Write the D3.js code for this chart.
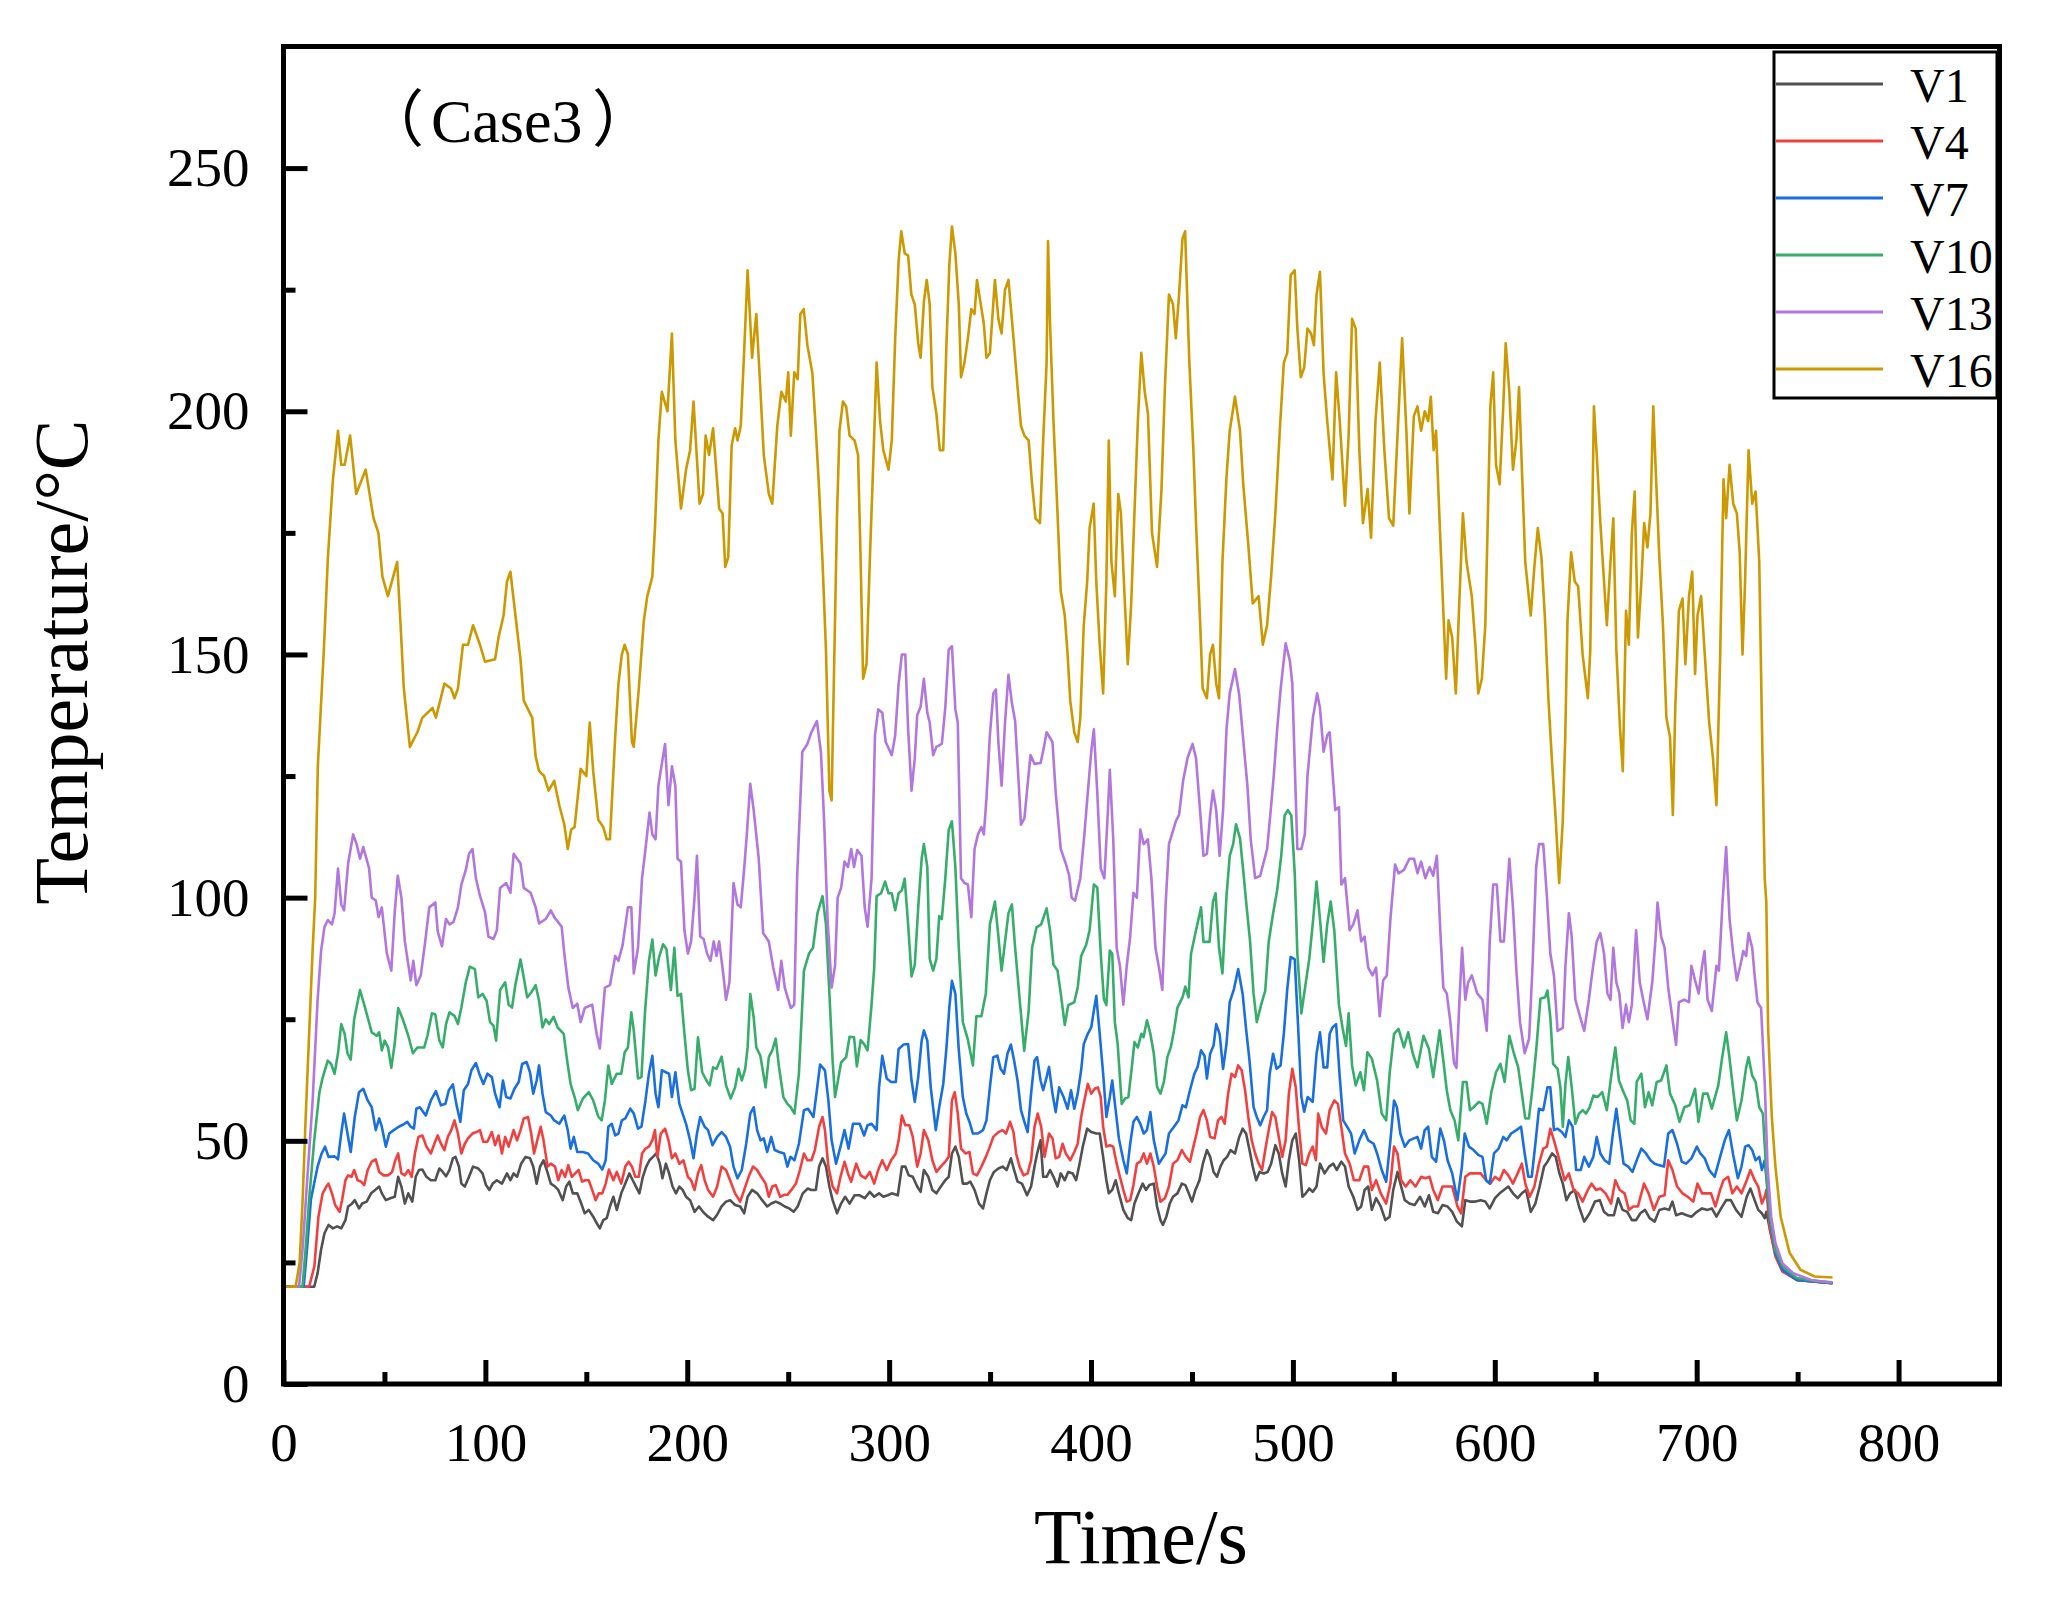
<!DOCTYPE html>
<html>
<head>
<meta charset="utf-8">
<script src="https://cdn.jsdelivr.net/npm/d3@7"></script>
<style>
  body { margin: 0; background: #fff; }
  text { font-family: "Liberation Serif", "Times New Roman", serif; fill: #000; }
</style>
</head>
<body>
<svg width="2055" height="1603"></svg>
<script>
// series: [time s, temperature °C]
const v1 = [[0,20],[15.2,20],[16.9,22.8],[18.6,27.6],[20.3,31],[22.3,32.7],[24.5,32],[26.6,32.4],[28.6,32],[30.7,33.7],[32,36.5],[33.7,37],[35.3,37.8],[37.4,36.1],[39,37.1],[41.2,37.5],[43.4,39.2],[45.4,39.9],[47.4,40.6],[48.7,39.2],[50.7,37.8],[52.9,38.2],[55.1,38.5],[56.8,42.6],[58.4,40.6],[60.1,37.1],[61.8,39.2],[63.8,37.5],[65.5,42.6],[67.1,44],[68.8,44.1],[70.8,42.6],[73,41.9],[75.2,41.9],[77.2,44.3],[78.9,43.6],[80.5,42.7],[82.2,44],[83.9,46.4],[85.2,46.7],[86.9,44.7],[88.1,41.2],[89.8,40.6],[91.9,42.6],[93.9,44.7],[96.5,44.3],[98.6,43.3],[100.3,40.9],[102,39.9],[103.6,41.2],[105.7,41.9],[108.2,41.2],[110.7,43.3],[112.4,41.9],[114,43.3],[115.7,42.6],[117.7,45.3],[119.9,46.7],[122.1,46.4],[123.7,44.7],[125.4,41.2],[127.1,44.7],[128.8,46],[130.4,44],[132.4,41.2],[134.5,40.6],[136.1,39.9],[138.3,37.8],[140,40.6],[141.6,41.6],[143.3,39.2],[145.5,39.2],[147.5,37.1],[149.2,35.1],[151.2,35.8],[153.4,34.4],[155.1,33.1],[156.7,32],[158.4,33.7],[160.1,34.1],[161.7,36.5],[163.4,38.5],[165.1,35.8],[167.3,39.2],[169.3,41.2],[171.3,43.3],[173,41.9],[174.6,40.6],[176.3,39.2],[178,42.6],[179.7,44.7],[181.3,46],[183,46.7],[184.7,47.4],[186.4,45.3],[187.7,42.3],[189.4,45.3],[191,43.3],[192.7,40.6],[194.4,39.2],[196.1,40.6],[197.7,39.9],[199.4,38.5],[201.4,37.8],[203.6,35.4],[205.8,36.5],[207.8,35.4],[210.3,34.4],[212.8,33.7],[214.8,34.8],[217,36.5],[219.2,37.5],[221.2,37.8],[223.7,36.8],[226.2,36.5],[228.2,35.1],[229.9,38.5],[232.1,39.9],[234.6,39.2],[237.1,37.8],[239.6,36.5],[241.6,37.1],[243.8,37.5],[246,37.1],[248.3,36.5],[250.5,36.1],[252.7,35.4],[254.7,36.5],[257.2,39.2],[259.7,40.2],[261.5,39.9],[263.7,39.9],[265.3,44.7],[267,46.4],[268.7,44.7],[270.4,40.6],[272,37.8],[274.2,35.1],[276.2,37.1],[278.2,38.5],[280.4,37.1],[282.9,38.8],[285.4,38.8],[287.9,38.2],[290.4,39.5],[292.6,38.5],[295,39.2],[297.1,38.5],[299.3,38.8],[301.3,39.2],[304.3,38.8],[306.3,44.7],[308,44.7],[309.7,42.9],[311.7,42.6],[313.9,40.6],[315.6,39.5],[317.2,44],[319.4,42.6],[321.4,39.9],[323.4,39.2],[325.6,40.6],[327.8,41.9],[329.5,42.6],[331.1,47.4],[332.8,48.8],[334.5,46.7],[336.5,41.2],[338.5,41.2],[340.2,41.6],[342.3,39.9],[344.5,37.1],[346.5,36.1],[348.2,39.2],[349.9,41.9],[351.9,43.6],[354.1,44.3],[356.2,44.7],[358.2,44],[360.3,46.4],[361.9,44],[363.6,41.6],[365.8,41.2],[368.3,38.8],[370.3,40.6],[372,44.7],[373.3,47.4],[375,50.1],[376.3,42.6],[378,42.6],[379.7,44],[381.4,42.6],[383.4,40.6],[385,43.3],[387,41.9],[388.7,43.6],[390.9,43.3],[392.6,41.9],[394.2,45],[395.9,48.8],[398.1,52.5],[400.1,51.8],[402.6,51.5],[404.3,51.5],[406,46.7],[407.6,41.9],[408.8,39.2],[410.5,39.9],[412.2,41.9],[413.8,39.2],[416,35.8],[418.2,34.1],[419.9,33.7],[421.5,37.1],[423.5,39.2],[425.6,41.2],[427.2,39.9],[428.9,40.9],[431.1,41.2],[432.7,36.5],[434.4,33.7],[435.6,32.7],[437.3,34.4],[439,37.1],[440.6,38.5],[442.8,39.2],[445,41.2],[446.7,40.9],[448.4,39.2],[450,37.5],[451.7,39.9],[453.7,41.9],[455.4,45.3],[457.4,48.1],[459,46.7],[460.7,43.6],[462.4,42.6],[464.1,44.7],[465.7,46],[467.4,46.7],[469.1,48.1],[471.3,47.4],[473.4,50.8],[475.1,52.5],[476.8,51.5],[478.5,48.1],[480.1,44.7],[481.8,41.9],[483.5,43.6],[485.5,43.3],[487.5,43.6],[489.2,45.3],[491.3,49.1],[493,47.4],[494.7,43.3],[496.4,40.6],[498,46],[499.7,50.1],[501.4,51.5],[503.1,46],[504.7,38.5],[506.4,39.2],[508.1,40.2],[509.8,39.5],[511.7,40.6],[513.4,45.3],[515.7,43.3],[517.9,44.7],[520,45.3],[521.7,44],[524,45.7],[525.8,44.7],[527.6,40.6],[529.9,38.5],[532,35.8],[533.8,36.5],[535.5,39.9],[537.3,40.6],[539.1,35.8],[541.2,38.2],[543.5,36.5],[545.8,33.7],[547.9,34.4],[549.7,39.9],[551.8,43.6],[553.6,40.6],[555.4,37.8],[557.7,37.1],[560.3,36.8],[563,38.5],[565.3,36.5],[567.4,38.8],[569.5,35.4],[571.8,35.1],[574.1,36.8],[576.6,36.5],[578.9,35.4],[581.2,33.4],[583.7,32.4],[585.4,37.8],[587.7,37.5],[590.4,37.5],[593,37.8],[595.3,37.5],[597.5,36.1],[600.1,38.2],[602.4,39.2],[604.5,39.9],[606.7,40.6],[609,39.2],[611.3,38.2],[613.4,39.2],[615.5,39.9],[617.8,35.4],[620.1,37.1],[622.2,40.6],[624.4,44.7],[626.1,45.7],[628.4,47.4],[630.2,46.7],[632,43.3],[633.7,41.2],[635.5,37.8],[637.3,39.2],[639.6,39.9],[641.7,36.5],[644.3,33.4],[647,35.1],[649.6,37.5],[652,37.8],[654.1,35.4],[656.2,34.7],[659,34.7],[661.1,38.2],[663.3,35.8],[665.6,35.4],[667.9,33.7],[670,33.7],[672.1,35.1],[674.4,35.8],[676.7,34.1],[679.2,33.4],[681.5,35.8],[684.1,36.1],[686.3,35.8],[688,37.5],[689.8,34.7],[692.6,35.1],[695.1,34.7],[697.4,34.4],[700.1,35.4],[702.7,36.1],[705.4,35.8],[707.5,36.1],[709.8,34.4],[712.1,36.1],[714.6,37.8],[716.9,37.8],[719.5,35.8],[722.2,34.4],[724.8,38.5],[726.6,40.2],[728.7,37.8],[730.5,35.8],[732.3,35.1],[733.7,34.1],[734.5,35.4],[736.3,31.7],[739,26.9],[742.5,23.5],[749.6,21.4],[767.3,20.7]];

const v4 = [[0,20],[12.7,20],[15.3,24.2],[17.3,34.4],[19.4,39.2],[21.1,40.5],[22.3,41.2],[24,39.2],[25.6,36.8],[27.8,35.4],[29,37.8],[30.7,41.9],[32,42.9],[33.7,42.6],[35,44],[36.7,41.9],[38.4,41.6],[40,40.9],[41.7,44],[43.7,45.7],[45.7,46.2],[47.4,43.6],[49.6,42.9],[51.8,42.9],[53.8,43.6],[55.4,46],[56.8,47.4],[58.4,43.3],[60.1,42.9],[61.8,44],[63.5,42.6],[65.1,47.4],[66.8,50.8],[68.8,51.1],[70.8,48.8],[73,47.4],[74.7,49.4],[76.4,51.1],[78,49.4],[79.7,48.1],[81.4,50.8],[83.1,52.2],[84.7,54.2],[86.4,51.5],[88.1,47.4],[89.8,49.4],[91.4,50.5],[93.6,51.5],[95.6,51.8],[97.3,52.2],[99,49.8],[101,49.8],[103.2,51.8],[104.8,49.1],[106.5,51.1],[108.2,47.4],[109.8,50.8],[111.5,48.8],[114,52.2],[115.7,50.1],[117.4,52.2],[119,54.6],[121.1,54.9],[122.7,51.5],[124.1,47.4],[125.7,50.1],[127.4,52.9],[128.8,50.1],[130.8,44.7],[132.4,45.3],[134.5,44.7],[136.1,41.9],[137.8,44],[139.5,42.6],[141.1,45],[142.8,42.6],[144.5,43.3],[146.2,44],[147.9,41.6],[149.5,41.9],[151.2,41.9],[152.9,39.9],[154.6,37.8],[156.2,39.2],[157.9,39.2],[159.6,41.2],[161.2,44.1],[163.4,41.9],[165.1,43.6],[167.3,41.2],[169.3,44.7],[171,45.7],[172.6,44.7],[174.3,42.6],[176,42.6],[177.6,47.4],[179.3,48.4],[181,48.8],[182.7,50.1],[184,52.2],[185.2,46.7],[186.9,51.5],[189,52.5],[190.7,50.1],[192.4,46.4],[194.1,47.4],[196.1,45.3],[198.1,46],[200.3,42.6],[201.9,41.9],[203.6,39.9],[205.3,43.3],[206.9,45],[208.6,41.9],[210.3,39.9],[212.8,38.5],[214.8,40.6],[217,44.7],[219.2,44],[221.2,41.9],[223.7,39.2],[226.2,37.5],[228.2,39.9],[230.4,42.6],[232.6,44.7],[234.6,44],[236.6,42.6],[238.8,41.2],[240.4,38.5],[242.1,40.6],[243.8,40.9],[246,38.5],[248,38.9],[249.6,38.9],[251.6,39.9],[253.8,41.2],[255.8,44],[257.8,47.4],[259.5,46],[261.5,46],[263.2,48.1],[265.3,52.9],[267,54.9],[268.2,52.2],[269.9,44.7],[272,40.6],[274.2,39.2],[275.9,42.6],[277.9,45.7],[279.6,43.3],[281.2,41.6],[283.7,45.3],[285.9,42.9],[288.3,42.3],[290.4,43.6],[292.6,41.2],[294.6,44],[296.6,46],[298.8,44],[301,46],[303.3,47.4],[304.7,50.1],[306.3,55.2],[308,53.2],[310,53.2],[311.7,50.8],[313.9,44.7],[315.6,47.4],[317.2,52.2],[319.4,50.1],[321.4,46],[323.4,43.6],[325.6,44.7],[327.8,45.7],[329.5,46.7],[331.1,58.3],[332.5,60],[334,55.6],[335.6,48.4],[337.8,47.4],[339.8,47.7],[341.5,43.3],[343.5,42.9],[345.7,44.7],[347.9,46.7],[349.5,48.4],[351.6,50.8],[354.1,51.8],[356.2,52.2],[357.9,51.5],[359.9,53.9],[361.6,51.8],[362.9,47.4],[364.6,44.7],[366.6,42.9],[368.6,43.3],[370.3,46],[372,52.9],[373.6,55.6],[375.3,52.9],[377,46.7],[379.2,51.5],[380.9,50.5],[382.5,46.4],[384.2,46.7],[385.9,49.4],[387.5,47.4],[389.7,46],[391.7,47.7],[393.4,49.4],[395.1,54.9],[396.7,58.3],[398.4,61.7],[400.1,59.7],[401.8,60.7],[403.4,61],[404.8,59],[406,52.9],[407.6,48.8],[409.3,49.1],[411,48.8],[412.7,45.3],[414.3,42.6],[416,39.9],[417.7,37.5],[419.4,37.8],[421,40.9],[422.7,45.3],[424.4,45.7],[426.1,47.4],[427.7,45.3],[429.4,47.4],[431.1,44.7],[432.7,40.6],[434.4,37.5],[436.6,38.2],[438.6,40.6],[440.6,45.3],[442.8,46],[445,48.1],[447,46.7],[449,45.7],[450.7,48.8],[452.3,51.5],[454,54.9],[455.7,56.3],[457.4,54.2],[459,50.8],[461.2,50.5],[462.9,54.2],[464.6,54.9],[466.2,53.5],[467.9,59.7],[469.6,63.8],[471.3,63.1],[472.9,65.5],[474.6,64.5],[476.3,60.4],[477.9,54.9],[479.6,50.1],[481.3,47.4],[483,45.3],[484.7,44],[486.3,48.1],[488,52.2],[489.7,55.9],[491.3,54.9],[493,50.8],[494.7,46.7],[496.4,50.1],[498,59.7],[499.7,64.8],[501.4,61],[503.1,52.2],[504.7,45.3],[506.4,45],[508.1,47.4],[509.8,48.8],[511.4,46],[512.5,55.6],[514.3,52.8],[516.4,51.5],[518.2,56.3],[520.5,58.3],[522.3,57.6],[524,52.8],[525.8,47.4],[528.1,45.3],[530.2,41.9],[532.9,41.9],[535.2,44.7],[537.3,44.7],[539.1,39.9],[541.2,41.9],[543.5,39.2],[546.2,37.1],[548.3,41.2],[550.1,48.8],[551.8,47.4],[553.6,41.9],[555.9,40.6],[558.2,41.9],[560.7,40.6],[563.5,42.6],[565.6,42.3],[567.7,42.6],[569.5,39.9],[571.8,37.8],[574.1,40.6],[576.6,40.6],[578.9,40.6],[581.5,36.5],[583.3,35.1],[585.4,42.6],[587.7,43.3],[590.4,43.3],[593,43.3],[595.7,41.9],[597.8,41.2],[600.1,42.6],[602.4,41.9],[604.5,44],[606.7,42.9],[609,41.2],[611.3,43.3],[613.4,45.3],[615.1,41.2],[617.3,38.5],[619.6,40.6],[621.9,45.3],[624,48.4],[625.8,48.8],[627.5,52.5],[629.3,50.1],[631.1,47.4],[632.8,44.7],[634.6,41.9],[636.7,43.3],[639,39.9],[641.3,39.2],[643.5,37.5],[646.1,39.9],[647.9,41.2],[650.2,39.9],[652.3,40.2],[654.9,39.2],[657.6,37.1],[659.7,41.9],[661.9,39.9],[664.3,39.2],[666.4,35.8],[668.6,36.5],[670.9,36.5],[673.9,41.2],[676.2,39.2],[678.8,35.8],[681.5,38.5],[684.1,38.8],[685.9,46],[688,44],[690.3,40.6],[693,39.2],[695.6,38.5],[698.3,37.5],[700.4,41.2],[702.7,39.2],[705,39.2],[707.1,39.2],[709.3,36.5],[711.6,39.9],[713.3,41.9],[715.6,42.6],[717.7,39.2],[719.9,40.6],[722.2,39.2],[724.8,41.9],[726.6,44],[728.7,41.9],[730.5,40.6],[732.3,37.1],[733.7,38.5],[734.5,39.9],[736.3,31.7],[739,26.2],[742.5,23.1],[749.6,21.4],[767.3,20.7]];

const v7 = [[0,20],[10,20],[11.7,28],[13.6,38],[16.9,44.7],[18.9,47.4],[20.6,48.8],[22.3,46.7],[25.3,46.8],[27,46.2],[28.6,51.5],[30,55.6],[31.7,51.5],[33.3,47.7],[35.3,54.9],[37.4,60],[39.5,60.7],[41.7,58.3],[43.7,56.9],[45.7,52.2],[47.4,54.6],[48.7,52.9],[50.7,48.8],[52.4,51.5],[54.6,52.2],[57.1,52.9],[59.6,53.4],[61.3,53.9],[63,52.9],[64.6,52.5],[65.8,56.6],[67.5,56.9],[70.5,55.2],[73,58.3],[75.5,60.2],[78,57.3],[80.2,57.6],[81.9,60.4],[83.9,61.6],[85.6,57.6],[87.6,53.9],[89.3,60.4],[91.4,61.7],[93.1,64.5],[95.3,66],[97,63.8],[99,61.7],[101,63.8],[103.2,63.1],[104.8,59.7],[107,56.9],[108.7,62.4],[110.3,59],[112.4,58.7],[114.4,60.7],[116.5,62.1],[118.2,65.8],[120.4,66.2],[122.1,64.1],[123.7,59.7],[125.4,62.4],[126.6,65.5],[128.3,59.7],[129.9,55.9],[132.4,55.2],[134.1,54.2],[136.6,53.5],[139.1,55.2],[140.8,52.2],[142.2,48.4],[143.8,50.8],[145.5,47.7],[148.3,47.7],[150.9,47.4],[153.4,46],[155.9,45.3],[157.9,44.1],[159.6,46],[160.9,52.9],[162.6,53.5],[164.3,51.1],[165.9,51.5],[167.6,54.2],[169.3,54.6],[171.8,56.6],[173.5,55.6],[175.6,52.5],[177.3,52.9],[179.3,58.3],[181,63.8],[182.7,67.5],[184.3,59.7],[185.7,56.9],[187.4,64.5],[189.4,64.1],[191,63.8],[192.4,59],[194.1,64.1],[196.1,57.6],[197.7,55.6],[199.4,53.5],[201.4,50.1],[203.1,46.4],[204.8,51.5],[206.4,54.9],[208.6,52.9],[210.3,52.2],[212.5,49.1],[214.8,50.8],[217,51.8],[219.2,50.8],[221.2,48.8],[222.9,44.7],[224.9,42.3],[227,44],[229.2,49.4],[231.2,55.6],[232.9,56.9],[234.6,52.2],[236.3,50.1],[237.9,50.5],[239.6,47.7],[241.6,50.8],[243.3,48.1],[245.5,47.7],[248,47.4],[249.6,44.7],[251.1,46.7],[253.1,46],[255.3,49.4],[257.8,56.3],[259.8,56.6],[262.5,54.9],[264.2,60.4],[265.8,65.7],[268.2,64.5],[269.9,58.3],[271.5,50.1],[273.7,45.3],[275.9,48.8],[277.9,52.2],[279.9,48.4],[282.1,53.5],[285.4,53.5],[287.6,51.1],[289.3,53.2],[291.3,53.5],[293.8,52.2],[295,61],[296.6,67.5],[298.8,62.8],[301,62.1],[303.3,62.1],[304.7,68.9],[307.2,69.8],[309.4,69.9],[311.1,62.4],[312.7,58],[314.4,63.1],[316.1,70.6],[317.2,72.7],[318.9,70.6],[320.6,61],[323.1,52.2],[324.8,56.9],[326.8,61.7],[328.4,69.2],[329.8,77.4],[331.1,82.9],[332.8,80.2],[334.5,68.6],[336.5,59],[338.2,55.6],[339.8,53.9],[341.5,51.5],[344,51.5],[346.5,52.2],[348.2,54.2],[349.9,61],[351.6,67.2],[353.6,67.5],[355.2,64.8],[356.9,63.8],[358.6,67.9],[360.3,69.8],[361.9,66.5],[363.6,62.4],[365.3,56.3],[367,53.9],[368.6,51.8],[370.3,59.7],[372,66.5],[373.3,67.2],[375,62.4],[376.3,60.4],[378,63.1],[379.2,65.2],[380.9,59.7],[382.5,55.9],[384.2,61],[386.4,59],[388.4,56.6],[390.1,60.4],[391.7,56.6],[393.4,59.7],[395.1,64.5],[396.4,69.9],[398.4,72],[400.1,73.3],[401.4,76.8],[402.6,79.8],[404.3,72],[406,63.8],[407.6,54.9],[409.3,59],[410.5,62.4],[412.2,56.3],[413.8,50.5],[416,46],[417.7,43.3],[419.4,49.4],[421,53.9],[422.7,54.9],[424.4,53.5],[426.1,51.5],[427.7,52.2],[429.4,55.9],[431.1,50.1],[433.6,45.3],[435.3,46.4],[436.9,47.4],[438.6,51.5],[441.1,52.9],[443.3,54.2],[445.3,57.3],[447,56.9],[449,60.4],[451.2,63.8],[452.8,65.2],[454.5,68.6],[456.2,67.5],[457.4,62.8],[459,67.9],[460.7,69.6],[462,74],[463.7,72],[465.4,64.8],[467.1,69.9],[468.7,78.5],[470.8,81.2],[472.9,85.3],[475.1,80.2],[476.8,73],[478.5,66.5],[480.5,57],[482.1,54.9],[483.8,53.2],[485.5,54.9],[487.2,56.3],[488.5,63.8],[490.2,67.9],[491.9,64.8],[493.9,65.5],[495.5,72],[497.2,81.2],[498.9,87.8],[500.9,87.3],[502.6,73.3],[504.2,59],[505.6,56],[507.3,59],[509.8,58],[511.7,67.9],[513.4,72.3],[515.2,65.1],[517,65.1],[518.2,72],[519.6,73.3],[521.4,74],[523.2,63.1],[524.9,54.2],[527,52.8],[528.8,51.5],[530.6,47.4],[532.9,50.1],[535.2,52.2],[537.3,50.1],[540,49.4],[541.7,47.4],[544,44],[546.2,41.6],[548.3,50.1],[550.1,58.3],[551.5,56.9],[553.2,51.5],[555.4,48.8],[557.7,50.1],[559.9,50.5],[561.7,50.8],[563.5,48.4],[565.3,52.2],[567,52.9],[568.8,46.7],[570.9,45.7],[573,52.5],[574.8,50.1],[576.6,46],[578.9,43.3],[581.5,37.8],[583.7,44.7],[585.1,51.5],[587.2,48.8],[589.5,48.1],[591.8,47.1],[593.9,46.7],[595.7,41.9],[597.5,41.2],[599.6,47.4],[601.9,48.4],[604.2,50.8],[605.9,50.1],[608.1,51.5],[610.7,52.2],[613,52.9],[614.8,47.4],[616.6,42.6],[618.3,42.6],[620.1,49.4],[621.9,56.6],[624,56.3],[626.1,61],[627.5,61],[629.3,52.2],[631.1,52.5],[633.2,51.8],[635,50.8],[636.7,54.2],[638.5,52.9],[640.3,44],[642.6,44],[644.3,46.7],[646.6,44.7],[648.8,46.7],[650.5,50.8],[652.3,47.4],[654.4,46],[656.7,45.3],[658.5,51.5],[660.2,56.6],[662,50.8],[663.8,45.3],[666.1,44.7],[668.2,43.6],[670.3,46],[672.6,48.4],[674.9,47.4],[677.1,46],[679.2,45.3],[681.5,45],[683.8,44.7],[685.9,51.5],[688,52.2],[690.3,49.4],[692.6,45.7],[694.8,45.3],[697.4,46.4],[700.1,48.8],[701.8,47.4],[704,46.4],[706.2,44],[708.9,42.6],[711.6,46.7],[713.9,50.1],[716,52.2],[718.1,47.1],[720.4,42.3],[722.2,44.7],[724,48.8],[725.7,49.1],[727.5,48.1],[729.2,46],[731,46.7],[732.3,44],[733.7,46],[734.5,42.6],[736.3,33.7],[739,26.9],[742.5,23.5],[749.6,21.4],[767.3,20.7]];

const v10 = [[0,20],[9.4,20],[11,28],[12.7,38],[15.2,50],[17.8,60],[19.4,63],[21.9,66.5],[23.6,65.8],[25.3,63.8],[27,68],[28.6,74],[30.3,72],[31.7,68],[33.3,66.7],[35,75],[37.9,81],[40.4,77.4],[43.7,72.3],[46.2,71.6],[47.4,72.3],[48.7,68.6],[50.1,70.6],[51.8,69.2],[53.4,65],[55.1,70],[56.8,77.3],[59.1,75],[61.8,71.6],[64.1,68],[66.3,69.2],[69.7,69.2],[71.3,71.6],[73.5,76.2],[75.2,76],[77.2,70.6],[78.9,69.2],[80.5,74],[82.2,76.4],[84.7,75.7],[86.4,74],[88.1,77.4],[90.3,82.6],[92.3,85.8],[94.8,85.3],[96.5,79.5],[98.6,80.2],[100.6,78.8],[102.3,74.4],[104,73.7],[105.3,70.6],[107.3,81],[109.8,82.6],[111.5,78],[113.2,77.4],[114.9,82.2],[117.4,87.3],[119,83.6],[120.7,79.5],[122.7,80.5],[124.9,82],[126.6,78.8],[128.3,73.3],[129.9,75],[131.6,74],[133.8,75.5],[135.8,73.3],[138.8,72],[140.5,66.5],[142.2,61.7],[144.2,59],[145.8,56.3],[148.3,58.7],[151.2,60],[153.4,58.3],[155.9,55],[157.6,54.2],[159.2,58.3],[160.9,65.5],[162.6,61.7],[165.1,63.8],[167.3,63.8],[169,68.2],[170.6,69.2],[172.3,76.4],[173.5,72.7],[175.6,62.8],[177.3,63.1],[179,76],[181,87],[182.7,91.4],[184.3,84],[186,87.7],[188,90.4],[189.7,89.4],[191.9,81],[193.6,89.7],[195.2,79.8],[196.9,80.2],[198.6,72],[200.3,64.5],[201.9,60.4],[203.6,60.7],[205.3,71.3],[207.4,64.1],[209.5,62.4],[211.1,61.4],[212.8,65.1],[214.5,64.8],[217,67.3],[219.2,61.4],[221.5,58.7],[223.7,61],[225.4,64.8],[227,62.4],[228.7,64.8],[229.9,69.2],[231.2,80.2],[232.9,75.4],[234.2,69.2],[236.2,67.5],[238.8,61],[240.4,67.2],[242.1,68.6],[243.8,71],[245.5,65],[247.6,59],[249.6,57.6],[251.1,57],[253.1,55.6],[255.3,63.8],[257.8,85],[260.3,88.5],[262.3,89.7],[264.5,96.8],[267,100.3],[268.7,94.5],[270.4,80.3],[272,66.5],[273.2,59],[274.9,63],[276.2,66.1],[278.7,67.2],[280.4,71.4],[282.6,71.3],[284,65.3],[285.9,70.7],[287.6,69.9],[289.3,68.6],[291.2,77.6],[292.6,85.6],[293.8,100.3],[296,100.9],[298,103.3],[299.7,100.9],[301.3,100.9],[303,97.4],[304.7,100.9],[306.3,101.5],[307.7,103.9],[309.4,94.5],[311.1,83.8],[312.7,86.2],[314.4,98],[316.1,108],[317.2,111],[318.9,106.3],[320.1,87.4],[321.8,85],[323.4,87.4],[324.8,96.2],[326.1,95.6],[327.8,103.9],[329.5,113.9],[331.1,115.7],[332.8,106.3],[334.5,89.7],[336.5,74.4],[339,70.8],[341.5,65.5],[343.2,75.6],[345.7,75.6],[347.9,80.3],[349.9,94.5],[352.4,99.2],[354.1,92.1],[355.7,85],[357.4,90.9],[359.1,96.8],[360.8,98.6],[362.4,89.7],[364.9,77.9],[366.9,68.5],[369.1,76.7],[370.8,89.7],[373,93.9],[375.3,94.5],[378,97.8],[379.7,93.3],[381.4,86.2],[383.4,85],[385,80.3],[387,73.8],[388.7,77.9],[391.7,78.5],[393.4,81.5],[395.1,88],[397.6,90.3],[399.3,93.3],[401.4,102.7],[403.1,102.1],[404.8,88.5],[406.4,79.1],[407.6,77.9],[409.3,89.1],[410.5,88.5],[411.8,74.4],[413.2,69.9],[415.2,57.6],[416.9,58.7],[418.5,59],[420.2,65.1],[421.5,70.3],[423.2,69.2],[424.9,72],[426,71.3],[427.7,74.8],[429.4,72],[431.1,67.9],[432.7,61.1],[434.4,59.7],[436.1,62.1],[437.8,67.2],[439.5,69.2],[441.1,72.7],[442.8,77.4],[445.3,79.5],[446.7,81.7],[448.3,79.5],[449.5,88.4],[452,93.3],[454.5,98],[455.7,90.9],[458.7,90.9],[460.4,99.2],[461.7,100.9],[463.4,89.7],[465.1,84.4],[467.1,100.3],[468.7,108.6],[470.4,111],[471.8,115.1],[473.8,112.2],[475.5,105.1],[477.1,98],[478.8,90.9],[480.5,80.3],[482.1,74.4],[484.2,77.9],[486.3,80.9],[488,90.9],[490.2,96.8],[492.2,101.5],[494.2,108.6],[495.9,116.9],[497.5,118],[499.2,116.9],[500.9,105.1],[502.2,88.5],[504.2,76.2],[506.4,82.6],[508.1,87.4],[509.8,94.5],[511.7,103.3],[513.4,95.6],[515.2,86.8],[517,94.5],[518.7,99.2],[520.5,93.3],[522.8,77.9],[524.6,73.2],[526.3,69.5],[527.6,76.2],[529.3,65.5],[531.1,61.4],[533.4,64.1],[535.2,60.4],[536.9,68.2],[539.1,66.9],[541.7,62.4],[544,55.6],[546.2,54.2],[547.9,63.8],[550.1,72],[552.3,73],[555,69.2],[557.1,72.3],[559.4,67.9],[561.7,65.1],[564.7,71.6],[567.4,68.9],[569.5,63.1],[572.7,72.7],[574.5,66.5],[576.2,60.4],[578,56.3],[580.1,54.2],[581.9,50.1],[584.2,62.1],[586,62.1],[587.7,56.3],[589.5,56.9],[592.1,58],[593.9,57.6],[596,53.5],[598.3,60],[600.6,64.1],[602.8,65.8],[604.9,62.1],[607.2,71.6],[609.5,67.9],[611.6,65.1],[613.4,59.7],[615.1,54.6],[616.9,54.6],[618.7,61],[620.5,68.6],[622.6,79.2],[624.9,79.5],[626.1,80.9],[627.5,75.4],[628.9,65.8],[631.1,64.8],[632.5,61],[633.7,52.9],[635,61.7],[636.4,67.2],[638.1,61],[639.9,53.5],[641.7,55.6],[643.5,56.3],[645.2,55.6],[647,56.9],[648.8,59.3],[650.9,59],[653.2,60],[655.5,56.3],[657.6,63.1],[659.7,69.2],[661.5,62.4],[663.8,60],[665.6,58.3],[667.3,54.2],[669.1,53.5],[670.3,62.1],[672.6,63.8],[674.4,56.9],[676.2,60],[678,57.3],[680.2,62.1],[682.4,62.4],[685,65.5],[686.8,59.7],[689.4,57.3],[691.5,53.9],[693.9,56.9],[696.5,57.3],[699.2,60.7],[700.9,53.9],[703.2,59.7],[705.4,59.7],[707.5,56.6],[710.7,61.4],[712.4,66.5],[714.6,72.3],[716,67.9],[718.1,60.4],[719.9,54.2],[722.2,58.3],[724.5,65.1],[725.7,67.2],[727.5,63.4],[729.2,62.1],[731,56.9],[732.8,55.6],[734.5,43.3],[736.3,34.4],[739,27.6],[742.5,24.2],[749.6,21.8],[760.2,21.1],[767.3,20.9]];

const v13 = [[0,20],[7.7,20],[9.5,28],[11.1,38],[14.4,58],[16.9,79],[18.6,89],[20.3,94],[22,95.4],[24,94.5],[25.3,96.8],[27,106],[28.6,98.6],[30,97.4],[32,107],[34.5,113],[36.2,111],[37.9,108],[39.5,110.4],[42.4,106],[43.7,100],[45.7,99.4],[47.1,96],[48.7,98],[51.2,88.5],[53.4,85],[55.1,97],[56.6,104.5],[58.4,100],[60.1,91],[63,83],[64.3,87],[65.8,82],[68,84],[70.2,91],[72.2,98],[75.2,99],[76.4,93],[78.5,90],[80.5,95.6],[82.2,94.5],[84.2,95],[86.4,98],[88.1,102.7],[90.3,105.7],[91.9,109],[93.6,110],[95.3,104],[97.3,100.4],[99.8,97],[101.5,92],[104,91.5],[105.7,93.3],[107.3,102],[110.3,103],[112.4,101],[114,109],[117.4,107],[119,102],[122.4,101],[124.9,98],[126.6,94.7],[129.9,95.6],[132.4,97.4],[134.1,96],[137.8,94],[139.1,88.5],[141.1,81.5],[143.3,77.3],[145.5,78.2],[147.2,74.4],[149.2,77.3],[152.9,78],[155.1,72],[156.7,69],[159.2,81.5],[161.7,82],[164.3,88],[165.9,87],[168,90.3],[170.6,98],[172.3,98],[173.5,84.4],[175.6,89.7],[177.6,104],[179.3,110],[181.3,117.5],[182.7,113],[184.3,112],[185.7,123],[187.4,127.5],[189,131.6],[190.7,119],[192.4,127],[194.1,123],[195.2,108],[196.9,107.4],[198.6,93.3],[200.3,88.5],[201.9,91],[203.6,100],[204.8,108.6],[206.4,92],[208.1,91.5],[209.8,88.5],[211.5,87],[213.1,91],[214.5,88],[215.8,91],[217.8,84.4],[219.2,79],[220.9,82.6],[222.9,103],[224.9,98.6],[226.5,98],[228.2,106],[229.5,113],[231.2,123.4],[232.9,118],[235.4,108],[237.6,92.7],[240.4,91],[242.6,85.6],[245,81],[246.6,87],[248.3,81.5],[251.3,77.3],[253,78],[254.4,104],[257,130],[259.5,131.6],[261.5,134],[264.2,136.3],[266.2,130],[267.8,115.7],[269.5,95.6],[271.5,81.5],[273.2,86],[274.5,100],[276.2,102],[277.9,107.4],[279.6,106.3],[281.2,110],[282.6,106.3],[284.2,109.8],[286.3,108.6],[287.9,98],[289.3,94],[291.3,104],[293,133.4],[294.6,138.7],[296.6,138],[298.3,132],[301.3,129.3],[303,133.4],[304.7,144],[306.3,150],[308,150],[309.4,134.6],[311.1,122],[312.7,128.7],[313.9,137.5],[315.6,139.3],[317.2,145],[318.9,138],[320.1,136],[321.8,129.3],[323.4,131],[326.1,131.6],[327.8,139],[329.5,151],[331.1,151.7],[332.8,138.7],[334,136],[335.6,104],[337.3,103],[339,102.7],[340.7,96],[342.3,110],[344,113],[345.7,114.5],[346.9,113],[348.2,120.4],[349.9,133.4],[351.6,142],[352.9,142.8],[354.1,132],[355.7,123],[357.4,136],[359.1,145.8],[360.8,140],[362.4,136.3],[364.1,124],[365.3,115],[367,116.3],[368.3,122],[370,129.3],[372,127.5],[375,127.7],[376.7,131],[378,134],[380.9,132],[382.5,121.6],[385,110],[387.5,107],[389.2,104.5],[390.4,100],[392.1,99.4],[394.7,104],[396.7,113],[398.4,121.6],[400.1,130],[401.4,134.6],[403.1,121.6],[404.8,106],[406.6,104],[408.1,115.7],[409.3,126.3],[411,112],[412.7,89.7],[414.3,86],[416,78],[417.7,86],[419.4,92],[421,101],[422.7,100],[424.4,114],[426.1,111],[428.2,112],[429.9,104],[431.9,89.7],[433.9,85],[435.3,81],[437,99],[438.6,111],[442,115.7],[443.6,117],[445.6,124],[447.8,128.7],[450.3,131.6],[452,128.7],[454,118],[455.7,108.6],[457.4,109],[459,117],[460.4,122],[462,118],[463.7,108.6],[465.4,118],[467.1,134.6],[468.7,142],[471.3,147],[473.4,141.7],[475.5,132],[477.5,122.8],[479.1,112],[481.3,104],[483.8,104.5],[487.2,110],[488.8,117],[490.5,125],[492.2,134.6],[493.9,142.8],[496.4,152.3],[498.5,148.7],[499.7,144],[500.9,127.5],[502.2,110],[504.2,110],[505.9,113],[507.2,125],[509.9,137],[512,142],[513.4,139],[515.2,130],[517,133.4],[518.2,134],[519.6,126],[521,118],[522.8,118.6],[524,102.7],[525.8,104],[528.1,93.3],[529.9,94.5],[532,97.4],[533.8,91],[535.5,92],[537.3,85.6],[539.4,84],[541.2,85.6],[543,75.6],[544.7,83],[546.5,84],[548.3,95.6],[550.6,106.8],[552.3,105],[555,105.7],[557.7,108],[560,108],[561.7,105],[563.5,107.4],[565.6,104],[567.7,106.3],[569.5,104.5],[571.3,108.6],[573,93.3],[574.5,81.5],[576.2,80.3],[578,74.4],[579.8,66],[581,65],[582.4,78],[583.8,89.7],[585.4,79],[586.8,82.6],[588.6,84],[591.3,80.3],[593.9,79],[596,72.6],[597.5,91],[599.2,102.7],[601,102.7],[602.8,91],[604.5,91],[607.2,108],[609,98],[610.7,85],[612.5,74.4],[614.8,68],[617,71],[618.7,86],[620.5,106.3],[621.9,111],[624,111],[625.8,100.3],[627.5,88.5],[629.3,84],[631.1,72.6],[633.7,73.2],[635,86],[636.7,96.8],[638.1,92],[639.9,79],[642.6,75],[644.3,72.6],[646.6,79],[648.4,85],[650.5,91],[652.3,92.7],[654.1,88.5],[655.8,80.3],[657.3,79],[658.7,89.7],[660.2,82.6],[661.7,80.3],[663.3,73.2],[665,78],[666.4,74.4],[667.9,78],[670,93.3],[671.8,82.6],[673.5,79],[675.6,75],[678,82.6],[679.7,92],[680.6,99],[682.4,92],[684.1,89.7],[685.9,81.5],[687.7,76],[689.8,69.7],[691.2,78.5],[693.9,79],[696.2,78.5],[697.4,86],[699.2,83],[701,80.3],[702.7,86],[703.9,89],[705.4,79],[707.5,76.7],[709.8,86],[711,85],[712.8,99],[714.6,110.4],[716.3,95.6],[718.1,88.5],[719.9,83],[721.6,86],[723.1,89],[724.5,88],[725.7,92.7],[727.5,89.7],[728.7,84],[730.1,78.5],[731.9,77.3],[733.7,62],[735.1,44.7],[736.9,34.4],[739,29],[742.5,24.8],[747.8,22.8],[756.7,21.4],[767.3,20.8]];

const v16 = [[0,20],[6,20],[8,25],[9.5,38],[11,55],[12.7,72],[14.4,89],[15.7,100],[17,127],[20,151],[22,170],[24.5,186],[27,196],[28.6,189],[30.3,189],[33,195],[36,183],[40.7,188],[44.6,178],[47,175],[49,166],[51.7,162],[56.3,169],[58,156],[59.6,143],[62.6,131],[66.3,134],[68.8,137],[73.8,139],[75.5,137],[79.7,144],[83,143],[84.7,141],[86.4,143],[88.9,152],[91.4,152],[93.9,156],[97.3,152],[99.8,148.5],[104.8,149],[106.5,153.5],[109,158],[110.7,165],[112.4,167],[114.9,158],[117.4,149],[119,140.5],[123.2,137],[124.9,129],[126.6,126],[129.1,125],[131.3,122],[134.1,124],[136.6,119],[139.1,115],[140.8,110],[142.5,114],[144.2,114.5],[147.2,126.5],[150,125],[151.7,136],[153.4,126],[155.9,116],[158.4,114.5],[160.1,112],[161.7,112],[164.3,133],[165.9,144],[167.6,150],[169,152],[170.6,150],[172.6,132],[173.5,131],[176,143],[178.5,157],[180.2,162],[182.7,166],[184,176],[185.7,194],[187.4,204],[190.2,200],[192.4,216],[194.1,194],[196.9,180],[199.4,188],[201.4,192],[203.1,202],[206.1,181],[207.8,183],[209.1,195],[210.8,191],[212.8,196.5],[215.8,180],[217.5,179],[218.8,168],[220.3,170],[222,193],[223.7,196.5],[224.9,194],[226.5,197],[228.2,212.5],[229.9,229],[232.1,211],[234.2,220],[235.9,207],[237.9,191],[240.4,183],[242.1,181],[244.6,197],[246.6,204],[248.8,202],[250,208],[251.3,195],[253,208],[254.7,206.6],[256,220],[257.7,221],[259.5,213.6],[262,207.7],[263.7,196],[265.3,184],[267,169],[268.7,151],[270.4,122],[271.5,120],[272.9,151],[274.2,179],[275.4,196],[277.1,202],[278.7,201],[280.4,195],[282.9,194],[284.6,191],[285.9,169],[287.1,145],[288.8,148],[290.4,169],[292.1,189],[293.8,210],[295.5,198],[297.1,192],[299.7,188],[301.3,194],[303,215],[304.7,231],[306,237],[307.7,232.5],[309.4,232],[311,224],[312.7,222],[314.4,214],[315.6,211],[317.2,222.5],[318.6,227],[320.1,222],[321.4,205],[323.4,199.5],[325.1,192],[326.8,192],[328.4,214],[329.8,230],[331.1,238],[332.8,232.5],[334.5,222],[335.6,207],[337.3,210],[339,215],[340.7,221],[342.3,220],[343.5,227],[345.2,222.5],[346.9,218],[348.2,211],[349.9,212],[352.4,227],[354.1,219],[355.7,216],[357.4,225],[359.1,227],[361.6,215],[363.6,205],[365.3,197],[367,195],[369.1,194],[370.8,185],[372.5,178],[374.7,177],[376.3,194],[378,210],[378.7,235],[379.7,218],[381.4,198],[383.4,179],[385,163],[387,158],[388.4,150],[389.7,140.5],[391.7,134],[393.4,132],[394.7,137],[396.4,156],[398.1,165],[399.3,176],[401.3,181],[402.6,165],[404.3,152],[406,142],[407.6,165],[408.8,194],[410.1,169],[411.8,162],[413.5,183],[414.8,179],[416.5,163],[418.2,148],[419.9,160.5],[421.5,179],[423.2,198],[424.9,212],[426.6,204],[428.2,199.5],[430.2,175],[432.7,168],[434.9,184],[436.6,205],[438.6,224],[440.6,222],[442,215],[443.6,224],[445.3,235.5],[446.6,237],[448.7,210],[450.7,192],[452,177],[454,157],[455.3,143],[457.4,141],[459,150],[460.4,152],[462,144],[463.4,141],[465.1,169],[467.1,186.5],[468.7,196],[471.3,203],[473.8,196],[475.4,185],[478,172],[480.1,160.5],[483,162],[485.1,152],[487.2,156],[489.2,166],[491.3,179],[493.5,196],[495.5,210],[497.2,212],[498.9,228],[500.9,229],[502.2,217],[503.9,207],[505.6,209],[507.2,217],[509,216],[510.4,213.6],[511.7,224],[513.4,228.7],[515.2,207.7],[517,198],[519.6,186],[521.4,208],[523.2,198],[525.8,180.6],[527.6,195],[529.3,219],[531.1,217],[532.9,192],[534.7,177],[537,184],[538.7,174],[540.9,198],[543,210],[545.3,192],[547.6,178],[549.7,176.5],[551.8,195],[554.1,215],[556.2,196],[557.7,179],[559.9,199],[561.7,201],[563.5,196],[565.3,200],[567,198],[568.3,203],[569.7,192],[570.9,196],[572.7,177],[574.5,159],[575.9,145],[577.1,157],[578.9,153.5],[580.7,142],[582.4,160.5],[584.2,179],[586,169],[588.6,162],[590.4,152],[591.8,142],[593.6,145],[595.3,156],[596.6,179],[597.8,201],[599.2,208],[600.6,189],[602.4,185],[604.2,201],[605.4,214],[607.2,204],[609,188],[610.7,194],[612,205],[613.7,185],[615.1,169],[617.8,158],[619.6,168],[621.3,176],[623.1,170],[624.9,157],[626.6,140.5],[628.4,127.5],[630.2,116],[631.9,103],[633.7,116],[634.9,133],[636,157],[637.8,171],[639.6,165],[641.3,164],[643.5,150],[646.1,141],[647.3,151],[649.1,201],[650.5,191],[652.3,177],[654.1,165],[655.5,156],[657.3,169],[658.7,178],[660.2,151],[662,135],[663.4,126],[665,159],[666.4,152],[667.9,175],[669.3,183.5],[670.9,153.5],[672.6,165],[674,177],[675.6,172],[677.1,179],[678.5,201],[679.7,188],[681.5,170],[683.3,156],[685,137],[686.8,133],[688.2,117],[689.4,139],[691.2,159],[693,161.5],[694.4,148],[696.2,162],[697.8,167],[699.2,146],[700.4,158],[702.2,162],[704,150],[706.2,136],[708,129],[709.8,119],[711.6,149],[713.3,186],[714.6,178],[716.3,189],[718.1,181],[719.9,179],[721.3,171],[722.7,150],[723.9,164],[725.7,192],[727.5,181],[729.2,183.5],[731,169],[732.3,136],[733.7,104],[734.5,99],[735.4,73],[737.2,55],[739,44.7],[741.6,34.4],[746,27],[751.4,23.5],[758.4,22.1],[767.3,21.9]];

const seriesNames = ["V1", "V4", "V7", "V10", "V13", "V16"];
const seriesData = [v1, v4, v7, v10, v13, v16];
const colors = ["#515151", "#F14040", "#1A6FDF", "#37AD6B", "#B177DE", "#CC9900"];

const xMajor = [0, 100, 200, 300, 400, 500, 600, 700, 800];
const xMinor = [50, 150, 250, 350, 450, 550, 650, 750];
const yMajor = [0, 50, 100, 150, 200, 250];
const yMinor = [25, 75, 125, 175, 225];

const svg = d3.select("svg");
svg.append("rect").attr("width", 2055).attr("height", 1603).attr("fill", "#fff");

// plot frame in px
const plotL = 283.5, plotR = 1999.5, plotT = 46.5, plotB = 1384;

const x = d3.scaleLinear().domain([0, 850]).range([plotL, plotR]);
const y = d3.scaleLinear().domain([0, 275]).range([plotB, plotT]);

// lines
const line = d3.line().x(d => x(d[0])).y(d => y(d[1]));

svg.append("g")
  .selectAll("path")
  .data(seriesData)
  .join("path")
  .attr("fill", "none")
  .attr("stroke", (d, i) => colors[i])
  .attr("stroke-width", 2.6)
  .attr("stroke-linejoin", "round")
  .attr("d", line);

// axes, ticks pointing inward
const xAxis = svg.append("g")
  .attr("transform", `translate(0,${plotB})`)
  .call(d3.axisBottom(x).tickValues(xMajor).tickSizeInner(-24).tickSizeOuter(0).tickPadding(38));

const xAxisMinor = svg.append("g")
  .attr("transform", `translate(0,${plotB})`)
  .call(d3.axisBottom(x).tickValues(xMinor).tickSizeInner(-12).tickSizeOuter(0).tickFormat(""));

const yAxis = svg.append("g")
  .attr("transform", `translate(${plotL},0)`)
  .call(d3.axisLeft(y).tickValues(yMajor).tickSizeInner(-24).tickSizeOuter(0).tickPadding(34));

const yAxisMinor = svg.append("g")
  .attr("transform", `translate(${plotL},0)`)
  .call(d3.axisLeft(y).tickValues(yMinor).tickSizeInner(-12).tickSizeOuter(0).tickFormat(""));

[xAxis, xAxisMinor, yAxis, yAxisMinor].forEach(g => {
  g.select(".domain").remove();
  g.selectAll(".tick line").attr("stroke", "#000").attr("stroke-width", 5);
  g.selectAll(".tick text")
    .style("font-family", "'Liberation Serif', serif")
    .style("font-size", "55px")
    .attr("fill", "#000");
});

// frame
svg.append("rect")
  .attr("x", plotL).attr("y", plotT)
  .attr("width", plotR - plotL).attr("height", plotB - plotT)
  .attr("fill", "none")
  .attr("stroke", "#000")
  .attr("stroke-width", 5);

// axis titles
svg.append("text")
  .attr("x", 1141)
  .attr("y", 1563)
  .attr("text-anchor", "middle")
  .style("font-size", "78px")
  .text("Time/s");

svg.append("text")
  .attr("transform", "rotate(-90)")
  .attr("x", -662)
  .attr("y", 87)
  .attr("text-anchor", "middle")
  .style("font-size", "76px")
  .text("Temperature/°C");

// case label, full-width brackets placed separately
const caseLabel = svg.append("text")
  .attr("y", 142)
  .style("font-family", "'Liberation Serif', 'Noto Sans CJK SC', serif")
  .style("font-size", "62px");
caseLabel.append("tspan").attr("x", 362).text("（");
caseLabel.append("tspan").attr("x", 431).text("Case3");
caseLabel.append("tspan").attr("x", 592).text("）");

// legend
const legend = svg.append("g");
legend.append("rect")
  .attr("x", 1774).attr("y", 52)
  .attr("width", 223).attr("height", 346)
  .attr("fill", "#fff")
  .attr("stroke", "#000")
  .attr("stroke-width", 3);

const item = legend.selectAll("g.item")
  .data(seriesNames)
  .join("g")
  .attr("class", "item")
  .attr("transform", (d, i) => `translate(0,${84 + i * 57})`);

item.append("line")
  .attr("x1", 1776).attr("x2", 1883)
  .attr("stroke", (d, i) => colors[i])
  .attr("stroke-width", 3);

item.append("text")
  .attr("x", 1910)
  .attr("y", 18)
  .style("font-size", "48px")
  .text(d => d);
</script>
</body>
</html>
